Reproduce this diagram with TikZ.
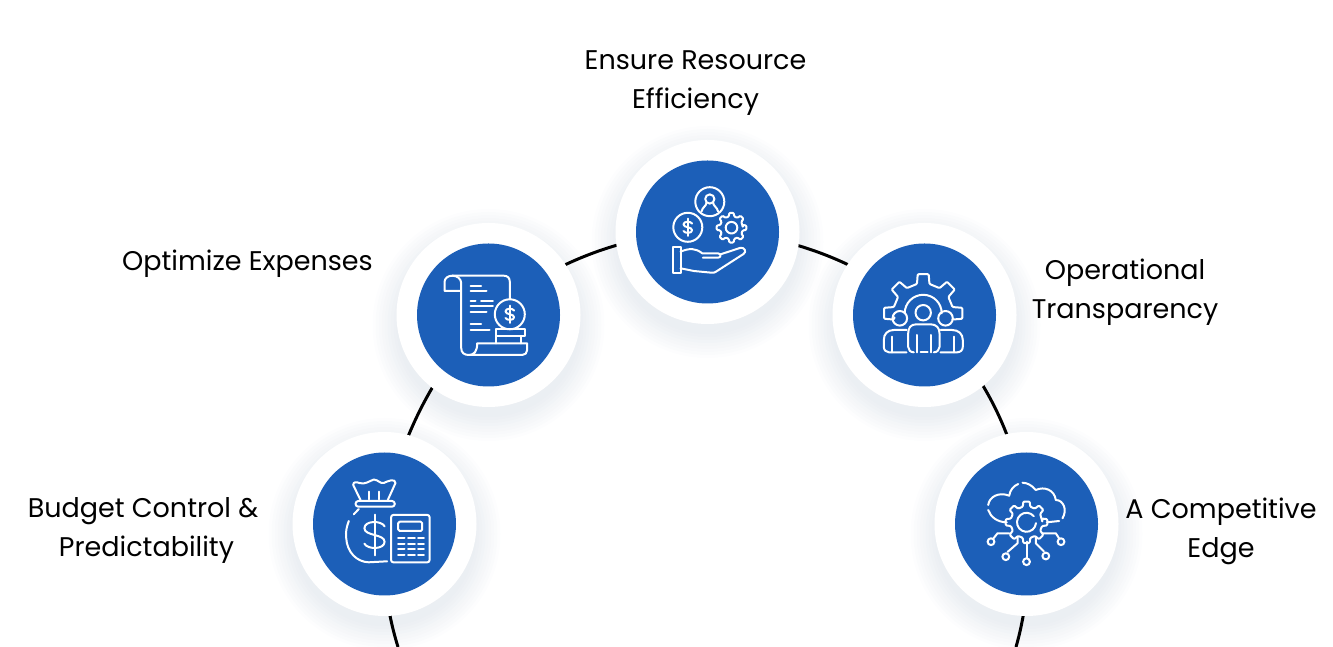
\documentclass[tikz,border=0pt]{standalone}
\usepackage{fontspec}
\setmainfont{Poppins}
\usetikzlibrary{backgrounds}
\definecolor{hubblue}{RGB}{28,95,184}
\definecolor{haze}{RGB}{110,135,165}
\newcommand{\gearoutline}[3]{%
  \pgfmathsetmacro\gearstep{360/#1}
  \draw[iconline,rounded corners=1pt] (0:#2) foreach \k in {1,...,#1} {
    -- ({\k*\gearstep-\gearstep*.3}:#2) -- ({\k*\gearstep-\gearstep*.19}:#3)
    -- ({\k*\gearstep+\gearstep*.19}:#3) -- ({\k*\gearstep+\gearstep*.3}:#2)
  } -- cycle;
}
\tikzset{
  iconline/.style={draw=white,line width=2pt,line cap=round,line join=round},
  ringnode/.style={circle,fill=white,minimum size=184pt,inner sep=0pt},
  hubnode/.style={circle,fill=hubblue,minimum size=143pt,inner sep=0pt},
  ringline/.style={black,line width=3pt,looseness=.85},
  caption/.style={align=center,font=\fontsize{27}{39}\selectfont,inner sep=0pt},
  dollarglyph/.pic={
    \draw[iconline] (.72,.62) .. controls (.5,1.05) and (-.72,1.05) .. (-.72,.48)
      .. controls (-.72,-.08) and (.72,.08) .. (.72,-.48)
      .. controls (.72,-1.05) and (-.5,-1.05) .. (-.72,-.62);
    \draw[iconline] (0,1.45) -- (0,-1.45);
  },
  handicon/.pic={
    % coin, person and gear above the open hand
    \draw[iconline] (2.3,30.3) circle (14.5);
    \draw[iconline] (2.3,33) circle (4.6);
    \draw[iconline] (-1,29.5) .. controls (-1,26) and (-5,25) .. (-6,20.5);
    \draw[iconline] (5.6,29.5) .. controls (5.6,26) and (9.6,25) .. (10.6,20.5);
    \draw[iconline] (-19.7,4.7) circle (14.5);
    \pic[scale=6] at (-19.7,4.7) {dollarglyph};
    \begin{scope}[shift={(24,4.3)}]
      \gearoutline{8}{11.5}{15}
      \draw[iconline] (0,0) circle (5.8);
    \end{scope}
    \draw[iconline] (-34.3,-15.3) rectangle (-27,-40.7);
    \draw[iconline] (-27,-19.7) .. controls (-18,-16) and (-12,-16) .. (-5.3,-21.3)
      -- (10.3,-21.3) .. controls (14,-21.5) and (14,-25.7) .. (10.3,-25.7) -- (-4.7,-25.7);
    \draw[iconline] (12.5,-22.5) -- (33,-15.8) .. controls (37,-15) and (39.5,-20) .. (36,-22)
      -- (8,-40) .. controls (7,-40.7) and (6,-40.7) .. (4,-40.7) -- (-13.7,-39) -- (-27,-36.3);
  },
  scrollicon/.pic={
    % bill on a scroll with coins
    \draw[iconline] (-28,24) -- (-44,24) -- (-44,33) .. controls (-44,37) and (-40,39.3) .. (-36.3,39.3)
      -- (15.3,39.3) .. controls (19,39.3) and (21.3,37) .. (21.3,33.3) -- (21.3,16);
    \draw[iconline] (-36.3,39.3) .. controls (-31,39.3) and (-27.3,36) .. (-27.3,31.7) -- (-27.3,-33)
      .. controls (-27.3,-38) and (-24,-40) .. (-19.7,-40) .. controls (-14,-40) and (-11.3,-36) .. (-11.3,-28.3)
      -- (38.7,-28.3) -- (38.7,-35) .. controls (38.7,-38) and (36.5,-40) .. (33.7,-40) -- (-19.7,-40);
    \draw[iconline] (21.3,.7) circle (15);
    \pic[scale=6] at (21.3,.7) {dollarglyph};
    \draw[iconline] (7.7,-14.3) -- (36,-14.3) -- (36,-21) -- (7.7,-21) -- cycle;
    \draw[iconline] (7,-21) -- (7,-28.3);
    \draw[iconline] (32,-21) -- (32,-28.3);
    \foreach \xa/\xb/\yy in {-18/-7.3/29,-18/-2/24.3,-18/-13/14.3,-7.3/4.3/14.3,-18/4.3/9.3,
      -18/-2/3.3,-18/-7.3/-9.3,-18/1/-14.7} {
      \draw[iconline] (\xa,\yy) -- (\xb,\yy);
    }
  },
  teamicon/.pic={
    % three people in front of a gear
    \begin{scope}[shift={(-1.3,1.7)}]
      \draw[iconline,rounded corners=1pt] (188:29) foreach \a in {180,135,90,45,0} {
        -- ({\a+12}:30) -- ({\a+8}:39.5) -- ({\a-8}:39.5) -- ({\a-12}:30)
      };
      \draw[iconline] (180:18.5) arc (180:0:18.5);
    \end{scope}
    \draw[iconline] (-1.3,2.3) circle (7.7);
    \draw[iconline] (-24.7,-3.3) circle (7.3);
    \draw[iconline] (21,-3.3) circle (7.3);
    \draw[iconline] (-10.7,-37.3) .. controls (-14,-37.3) and (-16.3,-35) .. (-16.3,-32) -- (-16.3,-18.3)
      .. controls (-16.3,-13) and (-14,-9.3) .. (-8,-9.3) -- (6,-9.3)
      .. controls (12,-9.3) and (15,-13) .. (15,-18.3) -- (15,-32) .. controls (15,-35) and (12.5,-37.3) .. (9.3,-37.3);
    \draw[iconline] (-7.3,-20) -- (-7.3,-37.3);
    \draw[iconline] (6,-20) -- (6,-37.3);
    \draw[iconline] (-4,-37.3) -- (3,-37.3);
    \draw[iconline] (-18,-15) -- (-30.7,-15) .. controls (-37,-15) and (-40.7,-19) .. (-40.7,-25) -- (-40.7,-31.7)
      .. controls (-40.7,-35) and (-38.5,-37.3) .. (-35.7,-37.3) -- (-18,-37.3);
    \draw[iconline] (-32.3,-21.7) -- (-32.3,-37.3);
    \draw[iconline] (16,-15) -- (27.7,-15) .. controls (34,-15) and (38.3,-19) .. (38.3,-25) -- (38.3,-31.7)
      .. controls (38.3,-35) and (36,-37.3) .. (32.7,-37.3) -- (16,-37.3);
    \draw[iconline] (29.3,-21.7) -- (29.3,-37.3);
  },
  bagicon/.pic={
    % money bag and calculator
    \draw[iconline] (-24,24) -- (-31.3,39) .. controls (-31.3,42.5) and (-28,42) .. (-25,41)
      .. controls (-20,39) and (-15,43) .. (-10.7,44.5) .. controls (-6,44) and (-4,40) .. (-.7,41)
      .. controls (3,43) and (11,46) .. (11,41) -- (3.3,24);
    \draw[iconline,rounded corners=2.8pt] (-29,23) rectangle (10.3,17.3);
    \draw[iconline] (-15.7,32.3) -- (-15.7,24.7);
    \draw[iconline] (-5.7,32.3) -- (-5.7,24.7);
    \draw[iconline] (-30.7,9.7) -- (-25.7,15);
    \draw[iconline] (-35.7,3) .. controls (-38,-3) and (-39,-8) .. (-38.3,-14)
      .. controls (-37.5,-28) and (-28,-38) .. (-15.7,-38.3) -- (2.7,-37.3);
    \pic[scale=14] at (-10,-11) {dollarglyph};
    \draw[iconline,rounded corners=2pt] (6.7,9) rectangle (45,-38.3);
    \draw[iconline,rounded corners=1.5pt] (13.7,2.3) rectangle (37.7,-7);
    \foreach \yy in {-14.3,-19.7,-25,-31} {
      \foreach \xa/\xb in {13.7/20,23.7/30.3,33.7/39.3} {
        \draw[iconline] (\xa,\yy) -- (\xb,\yy);
      }
    }
  },
  cloudicon/.pic={
    % cloud, gear and circuit lines
    \draw[iconline] (-38.3,19) .. controls (-37.3,27) and (-28,32.5) .. (-17.3,28.3) .. controls (-16.5,34) and (-13,38) .. (-8.3,40);
    \draw[iconline] (-4,41.3) .. controls (1,41) and (5,39) .. (9.3,34)
      .. controls (18,38) and (28,34) .. (29.3,24) .. controls (37,24) and (41,14) .. (36,5.7);
    \draw[iconline] (-38.3,14) .. controls (-36,7) and (-29,1.7) .. (-19.7,1.7);
    \draw[iconline] (20.3,1.7) -- (32.7,3);
    \begin{scope}[shift={(0,1.7)}]
      \gearoutline{8}{16}{21}
      \draw[iconline] (40:9.5) arc (40:355:9.5);
    \end{scope}
    \draw[iconline] (0,-17.7) -- (0,-34.3);
    \draw[iconline] (0,-37.7) circle (3.4);
    \draw[iconline] (-9,-12.7) -- (-9,-19.3) -- (-19,-28);
    \draw[iconline] (-20.7,-32.7) circle (3.4);
    \draw[iconline] (9.3,-12.7) -- (9.3,-19.3) -- (17.5,-27.5);
    \draw[iconline] (19.3,-32) circle (3.4);
    \draw[iconline] (-17.3,-9.3) -- (-29,-9.3) -- (-33.5,-15);
    \draw[iconline] (-35.5,-17.7) circle (3.4);
    \draw[iconline] (16,-9.3) -- (29.3,-9.3) -- (33,-15);
    \draw[iconline] (34.5,-17.7) circle (3.4);
  }
}
\begin{document}
\begin{tikzpicture}[x=1pt,y=1pt]
  \useasboundingbox (0,0) rectangle (1333,647);
  % the five hubs on the ring
  \foreach \nm/\x/\y/\ic in {eff/707.5/415/handicon,expenses/488.5/332/scrollicon,
    ops/924.5/332/teamicon,budget/384.5/123/bagicon,edge/1026.5/123/cloudicon} {
    \node[ringnode] (\nm) at (\x,\y) {};
    \node[hubnode] (\nm Hub) at (\nm) {};
    \pic at (\nm) {\ic};
  }
  \coordinate (budgetEnd) at (398,0);
  \coordinate (edgeEnd) at (1016,0);
  \begin{scope}[on background layer]
    \foreach \nm in {eff,expenses,ops,budget,edge} {
      \foreach \r in {92,95,...,116} {
        \fill[haze,opacity=.016] ([yshift=-10pt]\nm.center) circle (\r);
      }
    }
    \draw[ringline] (eff.center) to[bend right=21] (expenses.center);
    \draw[ringline] (expenses.center) to[bend right=19] (budget.center);
    \draw[ringline] (budget.center) to[bend right=11] (budgetEnd);
    \draw[ringline] (eff.center) to[bend left=21] (ops.center);
    \draw[ringline] (ops.center) to[bend left=23] (edge.center);
    \draw[ringline] (edge.center) to[bend left=11] (edgeEnd);
  \end{scope}
  \node[caption] (effText) at (695.5,564) {Ensure Resource\\Efficiency};
  \node[caption] (expensesText) at (247.5,383) {Optimize Expenses};
  \node[caption] (opsText) at (1125,355) {Operational\\Transparency};
  \node[caption] (budgetText) at (146.5,117) {Budget Control \&\hspace*{7pt}\\Predictability};
  \node[caption] (edgeText) at (1221,116) {A Competitive\\Edge};
\end{tikzpicture}
\end{document}
